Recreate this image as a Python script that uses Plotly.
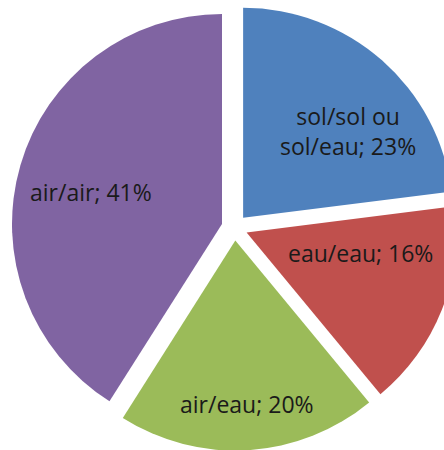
import plotly.graph_objects as go

labels = ["sol/sol ou<br>sol/eau", "eau/eau", "air/eau", "air/air"]
values = [23, 16, 20, 41]
colors = ["#4F81BD", "#C0504D", "#9BBB59", "#8064A2"]

# label anchor positions in pixels (layout only)
label_pos = [(348, 131), (360, 253), (247, 404), (91, 192)]

W, H = 469, 460

fig = go.Figure(go.Pie(
    labels=labels,
    values=values,
    sort=False,
    direction="clockwise",
    rotation=0,
    pull=[0.062] * 4,
    domain=dict(x=[0, 1], y=[0.0204, 0.99]),
    marker=dict(colors=colors, line=dict(color="white", width=0)),
    textinfo="none",
    showlegend=False,
    hoverinfo="skip",
))

for lab, val, (px, py) in zip(labels, values, label_pos):
    fig.add_annotation(
        x=px / W, y=1 - py / H, xref="paper", yref="paper",
        text=f"{lab}; {val}%", showarrow=False,
        font=dict(family="Open Sans", size=23, color="#1a1a1a"),
        xanchor="center", yanchor="middle", align="center",
    )

fig.update_layout(
    width=W,
    height=H,
    margin=dict(l=0, r=0, t=0, b=0),
    paper_bgcolor="white",
    plot_bgcolor="white",
)

fig.write_html(
    "out.html",
    config={"displayModeBar": False},
    post_script="document.body.style.margin='0px';",
)
